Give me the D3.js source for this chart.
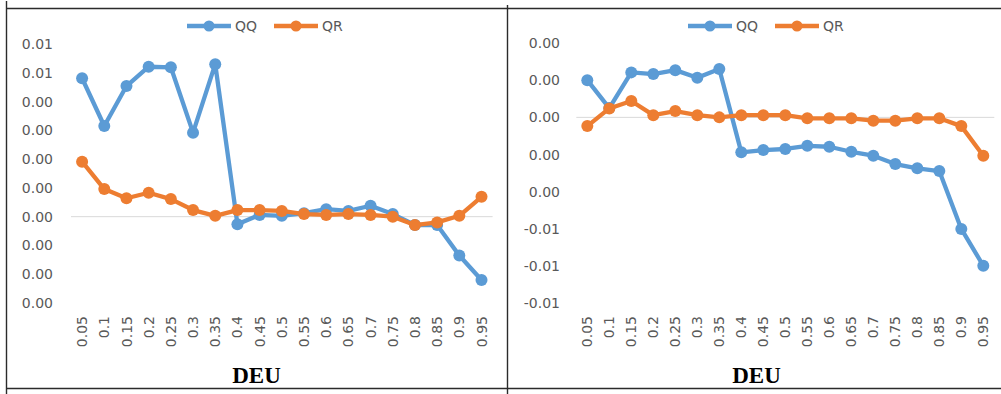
<!DOCTYPE html>
<html>
<head>
<meta charset="utf-8">
<script src="https://cdn.jsdelivr.net/npm/d3@7/dist/d3.min.js"></script>
<style>
  html, body { margin: 0; padding: 0; background: #fff; }
  svg { display: block; }
  .tick text { font-family: "DejaVu Sans", sans-serif; font-size: 14px; fill: #595959; }
</style>
</head>
<body>
<svg id="chart" width="1001" height="394"></svg>
<script>
// Quantile levels on the horizontal axis
const categories = ["0.05","0.1","0.15","0.2","0.25","0.3","0.35","0.4","0.45","0.5",
                    "0.55","0.6","0.65","0.7","0.75","0.8","0.85","0.9","0.95"];

// Left panel (DEU) series
const leftQQ = [0.00481, 0.00315, 0.00454, 0.00521, 0.00519, 0.00292, 0.00530, -0.00026, 0.00006, 0.00003,
                0.00012, 0.00026, 0.00020, 0.00038, 0.00009, -0.00029, -0.00029, -0.00135, -0.00220];
const leftQR = [0.00191, 0.00096, 0.00064, 0.00083, 0.00061, 0.00023, 0.00003, 0.00023, 0.00023, 0.00020,
                0.00009, 0.00006, 0.00009, 0.00006, 0.00000, -0.00029, -0.00020, 0.00003, 0.00069];
const leftYTicks = [-0.003, -0.002, -0.001, 0, 0.001, 0.002, 0.003, 0.004, 0.005, 0.006];

// Right panel (DEU) series
const rightQQ = [0.00200, 0.00050, 0.00242, 0.00233, 0.00254, 0.00213, 0.00260, -0.00188, -0.00176, -0.00170,
                 -0.00153, -0.00158, -0.00185, -0.00206, -0.00251, -0.00274, -0.00289, -0.00600, -0.00798];
const rightQR = [-0.00047, 0.00048, 0.00088, 0.00012, 0.00034, 0.00012, 0.00000, 0.00012, 0.00012, 0.00012,
                 -0.00005, -0.00005, -0.00005, -0.00018, -0.00018, -0.00005, -0.00005, -0.00047, -0.00206];
const rightYTicks = [-0.010, -0.008, -0.006, -0.004, -0.002, 0, 0.002, 0.004];

const seriesNames = ["QQ", "QR"];
const colors = { QQ: "#5B9BD5", QR: "#ED7D31" };

const locale = d3.formatLocale({ decimal: ".", thousands: ",", grouping: [3], currency: ["$", ""], minus: "-" });
const fmt = locale.format(".2f");

const svg = d3.select("#chart");

// Table grid around the two panels
const grid = svg.append("g").attr("stroke", "#2b2b2b").attr("stroke-width", 1.4);
grid.append("line").attr("x1", 6).attr("x2", 1001).attr("y1", 8.5).attr("y2", 8.5);
grid.append("line").attr("x1", 6).attr("x2", 1001).attr("y1", 388.5).attr("y2", 388.5);
grid.append("line").attr("x1", 6.5).attr("x2", 6.5).attr("y1", 1).attr("y2", 394);
grid.append("line").attr("x1", 507.5).attr("x2", 507.5).attr("y1", 5).attr("y2", 394);

function panel(cfg) {
  const g = svg.append("g");
  const x = d3.scaleBand().domain(categories).range(cfg.xRange).padding(0);
  const y = d3.scaleLinear().domain(cfg.yDomain).range(cfg.yRange);
  const cx = d => x(d) + x.bandwidth() / 2;

  // Value axis labels
  const yAxis = d3.axisLeft(y).tickValues(cfg.yTicks).tickSize(0).tickPadding(0).tickFormat(fmt);
  const ya = g.append("g").attr("transform", `translate(${cfg.yLabelRight},0)`).call(yAxis);
  ya.select(".domain").remove();

  // Horizontal axis line at zero
  g.append("line")
    .attr("x1", cfg.xRange[0]).attr("x2", cfg.xRange[1])
    .attr("y1", y(0)).attr("y2", y(0))
    .attr("stroke", "#D9D9D9").attr("stroke-width", 1);

  // Category labels, rotated
  const xAxis = d3.axisBottom(x).tickSize(0).tickPadding(0);
  const xa = g.append("g").attr("transform", `translate(0,${cfg.xLabelTop})`).call(xAxis);
  xa.select(".domain").remove();
  xa.selectAll(".tick text")
    .attr("transform", "rotate(-90)")
    .attr("text-anchor", "end")
    .attr("x", 0).attr("y", 0).attr("dy", "0.36em");

  // Series lines and markers
  const line = d3.line().x((d, i) => cx(categories[i])).y(d => y(d));
  cfg.series.forEach(s => {
    g.append("path").datum(s.values)
      .attr("fill", "none").attr("stroke", colors[s.name])
      .attr("stroke-width", 4.3).attr("stroke-linejoin", "round").attr("d", line);
    g.append("g").selectAll("circle").data(s.values).join("circle")
      .attr("cx", (d, i) => cx(categories[i])).attr("cy", d => y(d))
      .attr("r", 6).attr("fill", colors[s.name]);
  });

  // Legend
  const lg = g.append("g").attr("transform", `translate(${cfg.legendX},26)`);
  seriesNames.forEach((n, i) => {
    const ox = i * 87;
    lg.append("line").attr("x1", ox).attr("x2", ox + 44).attr("y1", 0).attr("y2", 0)
      .attr("stroke", colors[n]).attr("stroke-width", 4.3);
    lg.append("circle").attr("cx", ox + 22).attr("cy", 0).attr("r", 5.5).attr("fill", colors[n]);
    lg.append("text").attr("x", ox + 48).attr("y", 0).attr("dy", "0.36em")
      .style("font-family", "DejaVu Sans, sans-serif").style("font-size", "14px")
      .attr("fill", "#595959").text(n);
  });

  // Panel title
  g.append("text").attr("x", cfg.titleX).attr("y", 383)
    .attr("text-anchor", "middle")
    .style("font-family", "Liberation Serif, serif").style("font-weight", "bold").style("font-size", "23px")
    .attr("fill", "#000").text("DEU");
}

panel({
  xRange: [71, 492.6], yDomain: [-0.003, 0.006], yRange: [303, 44], yTicks: leftYTicks,
  yLabelRight: 53, xLabelTop: 316, legendX: 187, titleX: 256.5,
  series: [{ name: "QQ", values: leftQQ }, { name: "QR", values: leftQR }]
});

panel({
  xRange: [576.3, 994.3], yDomain: [-0.010, 0.004], yRange: [303.3, 43], yTicks: rightYTicks,
  yLabelRight: 560, xLabelTop: 316, legendX: 688, titleX: 756.5,
  series: [{ name: "QQ", values: rightQQ }, { name: "QR", values: rightQR }]
});
</script>
</body>
</html>
